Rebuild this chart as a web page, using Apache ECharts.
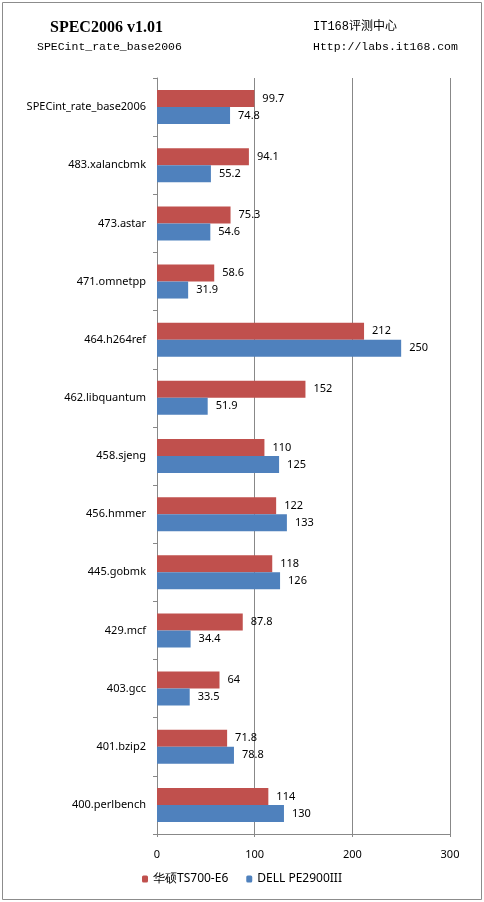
<!DOCTYPE html>
<html><head><meta charset="utf-8">
<script src="https://cdn.jsdelivr.net/npm/echarts@6/dist/echarts.min.js"></script>
<style>html,body{margin:0;padding:0;background:#fff}#c{width:484px;height:902px}</style>
</head><body><div id="c"></div>
<script>
const categories = ["SPECint_rate_base2006","483.xalancbmk","473.astar","471.omnetpp","464.h264ref","462.libquantum","458.sjeng","456.hmmer","445.gobmk","429.mcf","403.gcc","401.bzip2","400.perlbench"];
const asusValues = [99.7,94.1,75.3,58.6,212,152,110,122,118,87.8,64,71.8,114];
const dellValues = [74.8,55.2,54.6,31.9,250,51.9,125,133,126,34.4,33.5,78.8,130];
const seriesNames = ["华硕TS700-E6","DELL PE2900III"];
const xTicks = [0,100,200,300];

const chart = echarts.init(document.getElementById('c'));
const lbl = {show:true, position:'right', distance:8, color:'#000', fontSize:11, fontFamily:'Noto Sans'};
chart.setOption({
  animation:false,
  graphic:[
    {type:'rect', shape:{x:2.5,y:2.5,width:479,height:897}, style:{fill:'none', stroke:'#8c8c8c', lineWidth:1}},
    {type:'text', left:50, top:20, style:{text:'SPEC2006 v1.01', font:'bold 16px "Liberation Serif"', fill:'#000'}},
    {type:'text', left:37, top:41, style:{text:'SPECint_rate_base2006', font:'11.5px "Liberation Mono"', fill:'#000'}},
    {type:'text', left:313, top:21, style:{text:'IT168评测中心', font:'12px "Liberation Mono","Noto Sans CJK SC"', fill:'#000'}},
    {type:'text', left:313, top:41, style:{text:'Http://labs.it168.com', font:'11.5px "Liberation Mono"', fill:'#000'}}
  ],
  legend:{data:seriesNames, bottom:12, left:'center', itemWidth:6, itemHeight:7, itemGap:18,
    textStyle:{fontSize:12, fontFamily:'Noto Sans', color:'#000'}},
  grid:{left:157, right:34, top:78, bottom:68, containLabel:false},
  xAxis:{type:'value', min:0, max:300, interval:100,
    axisLine:{show:true, lineStyle:{color:'#888'}},
    axisTick:{show:true, length:3, lineStyle:{color:'#888'}},
    axisLabel:{color:'#000', fontSize:11, fontFamily:'Noto Sans', margin:15},
    splitLine:{show:true, lineStyle:{color:'#888', width:1}}},
  yAxis:{type:'category', data:categories, inverse:true,
    axisLine:{show:true, lineStyle:{color:'#888'}},
    axisTick:{show:true, length:4, alignWithLabel:false, lineStyle:{color:'#888'}},
    axisLabel:{color:'#000', fontSize:11, fontFamily:'Noto Sans', margin:11}},
  series:[
    {name:seriesNames[0], type:'bar', data:asusValues, itemStyle:{color:'#C0504D'}, barWidth:17, barGap:'0%', label:lbl},
    {name:seriesNames[1], type:'bar', data:dellValues, itemStyle:{color:'#4F81BD'}, barWidth:17, barGap:'0%', label:lbl}
  ]
});
</script></body></html>
